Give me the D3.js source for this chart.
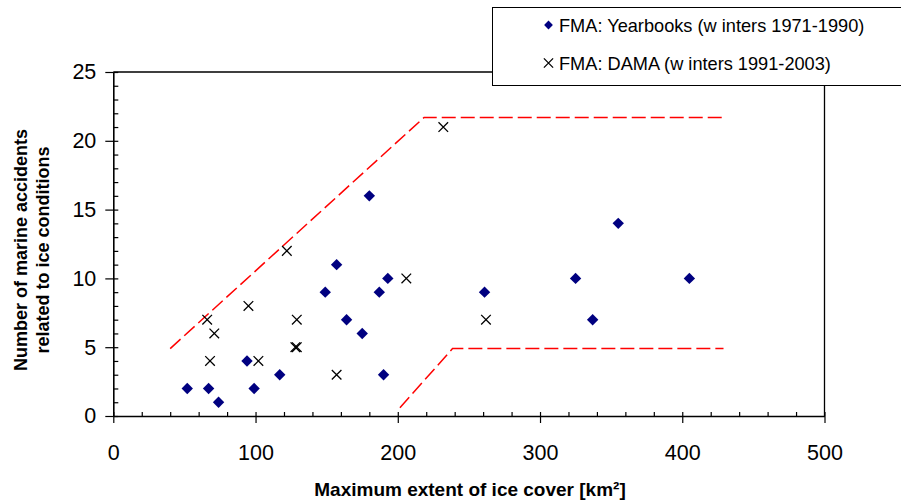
<!DOCTYPE html>
<html>
<head>
<meta charset="utf-8">
<script src="https://cdn.jsdelivr.net/npm/d3@7"></script>
<style>
  html, body { margin: 0; padding: 0; background: #fff; }
  svg { display: block; font-family: "Liberation Sans", Arial, Helvetica, sans-serif; }
</style>
</head>
<body>
<svg id="chart" width="901" height="504"></svg>
<script>
// Maximum ice extent (km²) vs. number of ice-related marine accidents per winter
const yearbooksX = [52, 67, 74, 94, 99, 117, 149, 157, 164, 175, 187, 193, 190, 180, 261, 325, 337, 355, 405];
const yearbooksY = [2, 2, 1, 4, 2, 3, 9, 11, 7, 6, 9, 10, 3, 16, 9, 10, 7, 14, 10];

const damaX = [66, 71, 68, 95, 102, 129, 128, 129, 157, 122, 232, 206, 262];
const damaY = [7, 6, 4, 8, 4, 7, 5, 5, 3, 12, 21, 10, 7];

// Envelope lines (upper and lower bounds)
const upperX = [40, 218.5, 431];
const upperY = [4.9, 21.7, 21.7];
const lowerX = [201.5, 238.5, 429];
const lowerY = [0.6, 4.9, 4.9];

const xTicks = [0, 100, 200, 300, 400, 500];
const yTicks = [0, 5, 10, 15, 20, 25];

const legendLabels = ["FMA: Yearbooks (w inters 1971-1990)", "FMA: DAMA (w inters 1991-2003)"];
const xTitle = "Maximum extent of ice cover [km²]";
const yTitleLines = ["Number of marine accidents", "related to ice conditions"];

const svg = d3.select("#chart");
const x = d3.scaleLinear().domain([0, 500]).range([113.3, 824.5]);
const y = d3.scaleLinear().domain([0, 25]).range([416, 72]);

const navy = "#000080";

// Plot area frame (top and right)
svg.append("path")
  .attr("d", `M${x(0)},${y(25)}H${x(500)}V${y(0)}`)
  .attr("fill", "none").attr("stroke", "#000").attr("stroke-width", 1.3);

// Envelope dashed lines
const line = d3.line().x(d => x(d[0])).y(d => y(d[1]));
[[upperX, upperY], [lowerX, lowerY]].forEach(([xs, ys]) => {
  svg.append("path")
    .attr("d", line(xs.map((v, i) => [v, ys[i]])))
    .attr("fill", "none").attr("stroke", "#ff0000")
    .attr("stroke-width", 1.5).attr("stroke-dasharray", "14,5");
});

// Y axis: major ticks outside with labels, minor ticks inside
const yMajor = svg.append("g").attr("transform", `translate(${x(0)},0)`)
  .call(d3.axisLeft(y).tickValues(yTicks).tickSize(8).tickSizeOuter(0).tickPadding(9));
const yMinor = svg.append("g").attr("transform", `translate(${x(0)},0)`)
  .call(d3.axisRight(y).tickValues(d3.range(0, 26, 1)).tickSize(5).tickSizeOuter(0).tickFormat(""));
yMinor.select(".domain").remove();

// X axis: major ticks outside with labels, minor ticks inside
const xMajor = svg.append("g").attr("transform", `translate(0,${y(0)})`)
  .call(d3.axisBottom(x).tickValues(xTicks).tickSize(7).tickSizeOuter(0).tickPadding(22));
const xMinor = svg.append("g").attr("transform", `translate(0,${y(0)})`)
  .call(d3.axisTop(x).tickValues(d3.range(0, 501, 20)).tickSize(4).tickSizeOuter(0).tickFormat(""));
xMinor.select(".domain").remove();

[yMajor, yMinor, xMajor, xMinor].forEach(g => {
  g.selectAll("line").attr("stroke", "#000").attr("stroke-width", 1.2);
  g.selectAll(".domain").attr("stroke", "#000").attr("stroke-width", 1.6);
  g.selectAll("text").attr("font-size", 21.5).attr("fill", "#000")
    .attr("font-family", "'Liberation Sans', Arial, sans-serif");
});

// Markers
const diamond = s => `M0,${-s}L${s},0L0,${s}L${-s},0Z`;
const cross = s => `M${-s},${-s}L${s},${s}M${-s},${s}L${s},${-s}`;

svg.append("g").selectAll("path")
  .data(yearbooksX.map((v, i) => [v, yearbooksY[i]]))
  .join("path")
  .attr("transform", d => `translate(${x(d[0])},${y(d[1])})`)
  .attr("d", diamond(5.7)).attr("fill", navy);

svg.append("g").selectAll("path")
  .data(damaX.map((v, i) => [v, damaY[i]]))
  .join("path")
  .attr("transform", d => `translate(${x(d[0])},${y(d[1])})`)
  .attr("d", cross(4.8)).attr("fill", "none")
  .attr("stroke", "#000").attr("stroke-width", 1.3);

// Axis titles
svg.append("text")
  .attr("x", 470).attr("y", 496)
  .attr("text-anchor", "middle").attr("font-weight", "bold").attr("font-size", 19)
  .text(xTitle);

const yt = svg.append("text")
  .attr("transform", "translate(0,250) rotate(-90)")
  .attr("text-anchor", "middle").attr("font-weight", "bold").attr("font-size", 18);
yt.append("tspan").attr("x", 0).attr("y", 27).text(yTitleLines[0]);
yt.append("tspan").attr("x", 0).attr("y", 49).text(yTitleLines[1]);

// Legend
const lg = svg.append("g");
lg.append("rect").attr("x", 492.5).attr("y", 7.5).attr("width", 420).attr("height", 78)
  .attr("fill", "#fff").attr("stroke", "#000").attr("stroke-width", 1);
lg.append("path").attr("transform", "translate(548.5,25)").attr("d", diamond(4.4)).attr("fill", navy);
lg.append("path").attr("transform", "translate(548.5,63)").attr("d", cross(4.6))
  .attr("fill", "none").attr("stroke", "#000").attr("stroke-width", 1.3);
lg.selectAll("text.lbl").data(legendLabels).join("text")
  .attr("class", "lbl")
  .attr("x", 559).attr("y", (d, i) => i === 0 ? 31.5 : 69.5)
  .attr("font-size", 18.2).attr("fill", "#000")
  .text(d => d);
</script>
</body>
</html>
